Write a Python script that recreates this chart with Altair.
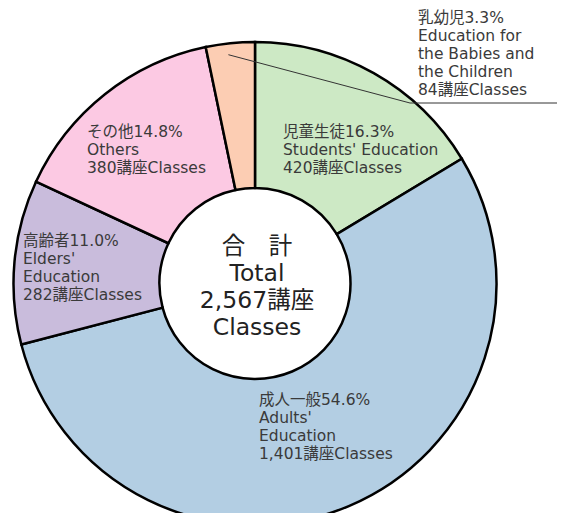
import altair as alt
import pandas as pd
import numpy as np

# ---- data ----
categories_jp = ["児童生徒", "成人一般", "高齢者", "その他", "乳幼児"]
categories_en = ["Students' Education", "Adults' Education", "Elders' Education", "Others",
                 "Education for the Babies and the Children"]
classes = [420, 1401, 282, 380, 84]
percents = [16.3, 54.6, 11.0, 14.8, 3.3]
colors = ["#cde9c5", "#b3cee3", "#c9bcdc", "#fcc9e3", "#fccdb3"]
total_classes = 2567

label_texts = [
    "児童生徒16.3%\nStudents' Education\n420講座Classes",
    "成人一般54.6%\nAdults'\nEducation\n1,401講座Classes",
    "高齢者11.0%\nElders'\nEducation\n282講座Classes",
    "その他14.8%\nOthers\n380講座Classes",
    "乳幼児3.3%\nEducation for\nthe Babies and\nthe Children\n84講座Classes",
]
center_text = "合　計\nTotal\n2,567講座\nClasses"

# ---- layout constants (pixels in plot area) ----
W, H = 549, 505
CX, CY = 247, 275.5
R_OUT, R_IN = 241.5, 95.5
label_pos = [(275, 117), (251, 385), (15, 226), (79, 117), (410, 3)]
leader_bend = (402, 95)
FONT = "DejaVu Sans, Noto Sans CJK JP"

df = pd.DataFrame({
    "cat": categories_jp,
    "value": classes,
    "order": list(range(len(classes))),
})

color_scale = alt.Scale(domain=categories_jp, range=colors)

arcs = alt.Chart(df).mark_arc(
    radius=R_OUT, radius2=R_IN, stroke="black", strokeWidth=2.5
).encode(
    theta=alt.Theta("value:Q", stack=True),
    order=alt.Order("order:Q"),
    color=alt.Color("cat:N", scale=color_scale, legend=None),
    x=alt.value(CX), y=alt.value(CY),
)

# leader line for the small slice, starting at its mid angle
vals = np.array(classes, dtype=float)
cum = np.cumsum(vals) / vals.sum()
mid_frac = cum[-1] - vals[-1] / vals.sum() / 2
ang = mid_frac * 2 * np.pi
r0 = 230
sx = CX + r0 * np.sin(ang) - 3
sy = CY - r0 * np.cos(ang)
leader = pd.DataFrame({
    "x": [sx, leader_bend[0], W + 10],
    "y": [sy, leader_bend[1], leader_bend[1]],
    "o": [0, 1, 2],
})
leader_line = alt.Chart(leader).mark_line(color="#333333", strokeWidth=1).encode(
    x=alt.X("x:Q", scale=None, axis=None),
    y=alt.Y("y:Q", scale=None, axis=None),
    order="o:Q",
)

lab_df = pd.DataFrame({
    "text": label_texts,
    "x": [p[0] for p in label_pos],
    "y": [p[1] for p in label_pos],
})
labels = alt.Chart(lab_df).mark_text(
    align="left", baseline="top", fontSize=15.5, lineHeight=18,
    font=FONT, color="#3a3a3a", lineBreak="\n"
).encode(
    x=alt.X("x:Q", scale=None, axis=None),
    y=alt.Y("y:Q", scale=None, axis=None),
    text="text:N",
)

center = alt.Chart(pd.DataFrame({"text": [center_text]})).mark_text(
    align="center", baseline="top", fontSize=23.5, lineHeight=27,
    font=FONT, color="#222222", lineBreak="\n"
).encode(
    x=alt.value(CX + 2), y=alt.value(CY - 49),
    text="text:N",
)

chart = alt.layer(arcs, leader_line, labels, center).properties(
    width=W, height=H, padding=0,
    autosize=alt.AutoSizeParams(type="none"),
    background="white",
).configure_view(stroke=None)

chart.save("out.html", embed_options={"renderer": "svg", "actions": False})
